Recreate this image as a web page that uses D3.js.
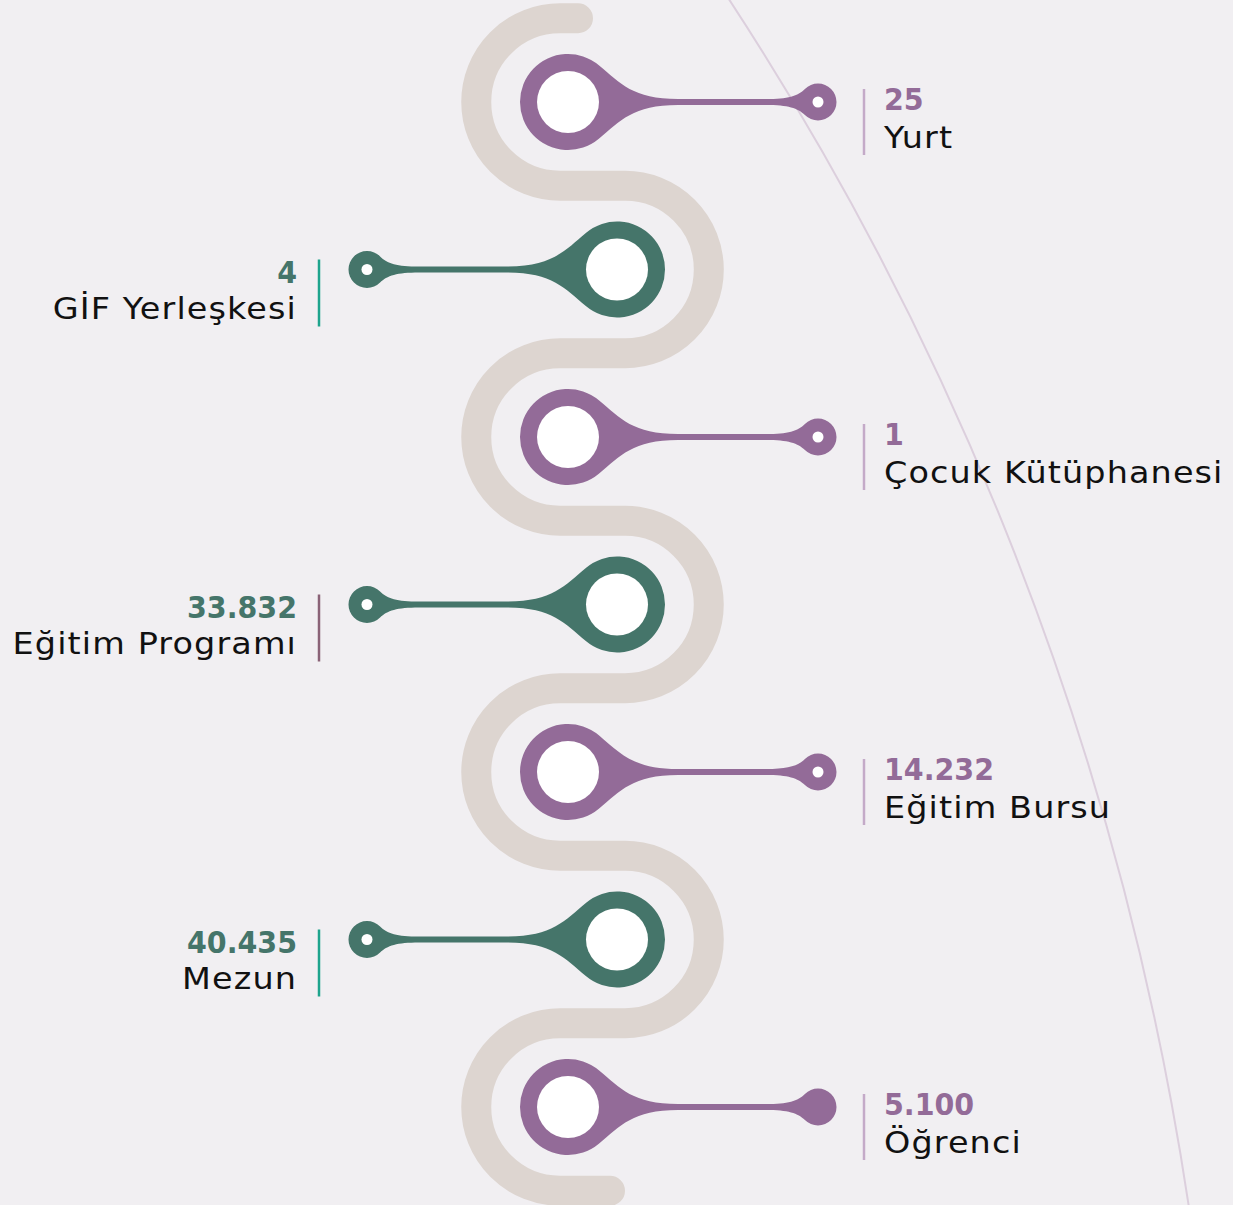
<!DOCTYPE html>
<html>
<head>
<meta charset="utf-8">
<script src="https://cdn.jsdelivr.net/npm/d3@7"></script>
<style>
  html, body { margin: 0; padding: 0; background: #f1eff2; }
  svg { display: block; }
</style>
</head>
<body>
<svg class="chart"></svg>
<script>
// data
var labels = ["Yurt", "GİF Yerleşkesi", "Çocuk Kütüphanesi", "Eğitim Programı", "Eğitim Bursu", "Mezun", "Öğrenci"];
var values = [25, 4, 1, 33832, 14232, 40435, 5100];

var width = 1233,
    height = 1205;

var purple = "#936b98",
    green = "#45756a",
    beige = "#ddd5d0";

var tr = d3.formatLocale({decimal: ",", thousands: ".", grouping: [3], currency: ["₺", ""]});
var fmt = tr.format(",d");

var y = d3.scalePoint()
    .domain(labels)
    .range([102, 1107]);

var step = y.step(),
    bend = step / 2;

var svg = d3.select(".chart")
    .attr("width", width)
    .attr("height", height);

// big faint arc on the right
svg.append("circle")
    .attr("cx", -1798)
    .attr("cy", 1653)
    .attr("r", 3020)
    .attr("fill", "none")
    .attr("stroke", "#dccfdd")
    .attr("stroke-width", 2);

// serpentine road
var leftX = 560, rightX = 625;
var road = d3.path();
road.moveTo(578, y(labels[0]) - bend);
road.lineTo(leftX, y(labels[0]) - bend);
labels.forEach(function(d, i) {
  var cy = y(d);
  if (i % 2 == 0) {
    road.arc(leftX, cy, bend, -Math.PI / 2, Math.PI / 2, true);
    if (i < labels.length - 1) road.lineTo(rightX, cy + bend);
  } else {
    road.arc(rightX, cy, bend, -Math.PI / 2, Math.PI / 2, false);
    road.lineTo(leftX, cy + bend);
  }
});
road.lineTo(610, y(labels[labels.length - 1]) + bend);

svg.append("path")
    .attr("d", road.toString())
    .attr("fill", "none")
    .attr("stroke", beige)
    .attr("stroke-width", 30)
    .attr("stroke-linecap", "round");

// pin shape: big ring, thin neck, small knob
function pinPath(bx, cy, s) {
  var R = 48, r = 18.5, h = 3, len = 250,
      kx = bx + s * len,
      a = 50 * Math.PI / 180,
      p1 = [bx + s * R * Math.cos(a), cy - R * Math.sin(a)],
      p2 = [bx + s * R * Math.cos(a), cy + R * Math.sin(a)],
      l1 = bx + s * 110,
      l2 = kx - s * 52,
      q = r * Math.SQRT1_2,
      q1 = [kx - s * q, cy - q],
      q2 = [kx - s * q, cy + q],
      sw = s > 0 ? 1 : 0;
  var dx = Math.sin(a), dy = Math.cos(a);
  return "M" + p1 +
    "C" + [p1[0] + s * 28 * dx, p1[1] + 28 * dy] + " " + [l1 - s * 45, cy - h] + " " + [l1, cy - h] +
    "L" + [l2, cy - h] +
    "C" + [l2 + s * 22, cy - h] + " " + [q1[0] - s * 7, q1[1] + 7] + " " + q1 +
    "A" + r + "," + r + " 0 1 " + sw + " " + q2 +
    "C" + [q2[0] - s * 7, q2[1] - 7] + " " + [l2 + s * 22, cy + h] + " " + [l2, cy + h] +
    "L" + [l1, cy + h] +
    "C" + [l1 - s * 45, cy + h] + " " + [p2[0] + s * 28 * dx, p2[1] - 28 * dy] + " " + p2 +
    "A" + R + "," + R + " 0 1 " + sw + " " + p1 + "Z";
}

var rows = labels.map(function(d, i) {
  return {label: d, value: values[i], side: i % 2 == 0 ? 1 : -1, i: i};
});

var pin = svg.selectAll(".pin")
    .data(rows)
  .enter().append("g")
    .attr("class", "pin");

pin.append("path")
    .attr("d", function(d) {
      var bx = d.side > 0 ? 568 : 617;
      return pinPath(bx, y(d.label), d.side);
    })
    .attr("fill", function(d) { return d.side > 0 ? purple : green; });

pin.append("circle")
    .attr("cx", function(d) { return d.side > 0 ? 568 : 617; })
    .attr("cy", function(d) { return y(d.label); })
    .attr("r", 31)
    .attr("fill", "#fff");

pin.filter(function(d) { return d.i < labels.length - 1; })
  .append("circle")
    .attr("cx", function(d) { return (d.side > 0 ? 568 : 617) + d.side * 250; })
    .attr("cy", function(d) { return y(d.label); })
    .attr("r", 5.5)
    .attr("fill", "#fff");

// labels
pin.append("line")
    .attr("x1", function(d) { return d.side > 0 ? 864 : 319; })
    .attr("x2", function(d) { return d.side > 0 ? 864 : 319; })
    .attr("y1", function(d) { return y(d.label) + (d.side > 0 ? -13 : -10); })
    .attr("y2", function(d) { return y(d.label) + (d.side > 0 ? 53 : 57); })
    .attr("stroke", function(d) {
      if (d.side > 0) return "#c4aac8";
      return d.label == "Eğitim Programı" ? "#8a6277" : "#1ea48d";
    })
    .attr("stroke-width", 2.5);

function tx(d) { return d.side > 0 ? 884 : 297; }

pin.append("text")
    .attr("transform", function(d) {
      return "translate(" + tx(d) + "," + (y(d.label) + (d.side > 0 ? 8 : 13)) + ") scale(0.92,1)";
    })
    .attr("text-anchor", function(d) { return d.side > 0 ? "start" : "end"; })
    .style("font-family", "'DejaVu Sans', sans-serif")
    .style("font-weight", "bold")
    .style("font-size", "31px")
    .attr("fill", function(d) { return d.side > 0 ? purple : green; })
    .text(function(d) { return fmt(d.value); });

pin.append("text")
    .attr("transform", function(d) {
      return "translate(" + tx(d) + "," + (y(d.label) + (d.side > 0 ? 46 : 49)) + ") scale(1.115,1)";
    })
    .attr("text-anchor", function(d) { return d.side > 0 ? "start" : "end"; })
    .style("font-family", "'DejaVu Sans', sans-serif")
    .style("font-size", "30px")
    .style("letter-spacing", "1px")
    .attr("fill", "#111")
    .text(function(d) { return d.label; });
</script>
</body>
</html>
